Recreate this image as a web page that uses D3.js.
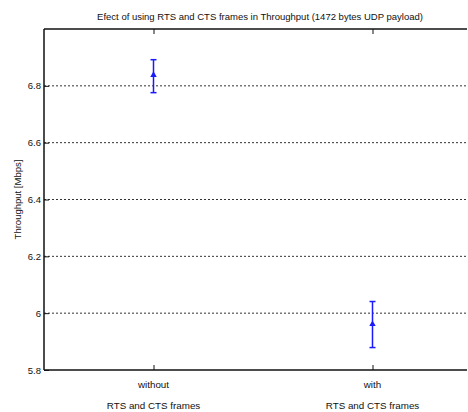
<!DOCTYPE html>
<html>
<head>
<meta charset="utf-8">
<script src="https://cdn.jsdelivr.net/npm/d3@7"></script>
<style>
  body { margin: 0; background: #fff; overflow: hidden; }
  text { font-family: "Liberation Sans", Arial, sans-serif; fill: #111; }
</style>
</head>
<body>
<div id="chart"></div>
<script>
// data
const categories = ["without", "with"];
const subLabel = "RTS and CTS frames";
const means = [6.838, 5.961];
const upper = [6.892, 6.041];
const lower = [6.776, 5.879];
const yTicks = [5.8, 6, 6.2, 6.4, 6.6, 6.8];

const width = 468, height = 412;
const margin = {top: 29, left: 44, bottom: 42};

const svg = d3.select("#chart").append("svg")
    .attr("width", width)
    .attr("height", height)
    .style("display", "block");

// x positions 1..2 within [0.5, 2.5], right edge runs past the window
const x = d3.scaleLinear().domain([0.5, 2.5]).range([margin.left, 482]);
const y = d3.scaleLinear().domain([5.8, 7.0]).range([height - margin.bottom, margin.top]);
const xEnd = width - 1;

// grid
svg.append("g").selectAll("line")
    .data(yTicks.filter(d => d > 5.8))
    .join("line")
    .attr("x1", x(0.5)).attr("x2", xEnd)
    .attr("y1", d => y(d)).attr("y2", d => y(d))
    .attr("stroke", "#333")
    .attr("stroke-width", 1)
    .attr("stroke-dasharray", "2,2");

// frame: left, top, bottom (right side is outside the window)
const frame = svg.append("g").attr("stroke", "#111").attr("stroke-width", 1.5);
frame.append("line").attr("x1", x(0.5)).attr("x2", x(0.5)).attr("y1", y(7.0)).attr("y2", y(5.8));
frame.append("line").attr("x1", x(0.5)).attr("x2", xEnd).attr("y1", y(7.0)).attr("y2", y(7.0));
frame.append("line").attr("x1", x(0.5)).attr("x2", xEnd).attr("y1", y(5.8)).attr("y2", y(5.8));

// y axis
const yAxis = svg.append("g")
    .attr("transform", `translate(${x(0.5)},0)`)
    .call(d3.axisLeft(y).tickValues(yTicks).tickSizeInner(-5).tickSizeOuter(0).tickPadding(3)
        .tickFormat(d => d3.format("")(+d.toFixed(1))));
yAxis.select(".domain").remove();
yAxis.selectAll(".tick line").attr("stroke", "#111");
yAxis.selectAll("text").style("font-size", "9.5px").attr("fill", "#444")
    .attr("font-family", "Liberation Sans, Arial, sans-serif");

// x axis bottom and top ticks
const xAxis = svg.append("g")
    .attr("transform", `translate(0,${y(5.8)})`)
    .call(d3.axisBottom(x).tickValues([1, 2]).tickSizeInner(-5).tickSizeOuter(0).tickFormat(""));
xAxis.select(".domain").remove();
xAxis.selectAll(".tick line").attr("stroke", "#111");

const xTop = svg.append("g")
    .attr("transform", `translate(0,${y(7.0)})`)
    .call(d3.axisTop(x).tickValues([1, 2]).tickSizeInner(-5).tickSizeOuter(0).tickFormat(""));
xTop.select(".domain").remove();
xTop.selectAll(".tick line").attr("stroke", "#111");

// category labels
svg.append("g").selectAll("text")
    .data(categories)
    .join("text")
    .attr("x", (d, i) => x(i + 1))
    .attr("y", 388)
    .attr("text-anchor", "middle")
    .style("font-size", "9.8px")
    .text(d => d);

svg.append("g").selectAll("text")
    .data(categories)
    .join("text")
    .attr("x", (d, i) => x(i + 1))
    .attr("y", 409)
    .attr("text-anchor", "middle")
    .style("font-size", "9.8px")
    .text(subLabel);

// error bars
const bars = svg.append("g").attr("stroke", "#1a1aff").attr("stroke-width", 1.5);
bars.selectAll(".stem")
    .data(means)
    .join("line")
    .attr("x1", (d, i) => x(i + 1)).attr("x2", (d, i) => x(i + 1))
    .attr("y1", (d, i) => y(upper[i])).attr("y2", (d, i) => y(lower[i]));
bars.selectAll(".capU")
    .data(upper)
    .join("line")
    .attr("x1", (d, i) => x(i + 1) - 3).attr("x2", (d, i) => x(i + 1) + 3)
    .attr("y1", d => y(d)).attr("y2", d => y(d));
bars.selectAll(".capL")
    .data(lower)
    .join("line")
    .attr("x1", (d, i) => x(i + 1) - 3).attr("x2", (d, i) => x(i + 1) + 3)
    .attr("y1", d => y(d)).attr("y2", d => y(d));

// mean marker
svg.append("g").selectAll("path")
    .data(means)
    .join("path")
    .attr("transform", (d, i) => `translate(${x(i + 1)},${y(d)})`)
    .attr("d", d3.symbol(d3.symbolTriangle, 18))
    .attr("fill", "#1a1aff");

// title
svg.append("text")
    .attr("x", 260)
    .attr("y", 20)
    .attr("text-anchor", "middle")
    .style("font-size", "9.5px")
    .text("Efect of using RTS and CTS frames in Throughput (1472 bytes UDP payload)");

// y label
svg.append("text")
    .attr("transform", `translate(21,${(y(5.8) + y(7.0)) / 2}) rotate(-90)`)
    .attr("text-anchor", "middle")
    .style("font-size", "9.5px")
    .text("Throughput [Mbps]");
</script>
</body>
</html>
